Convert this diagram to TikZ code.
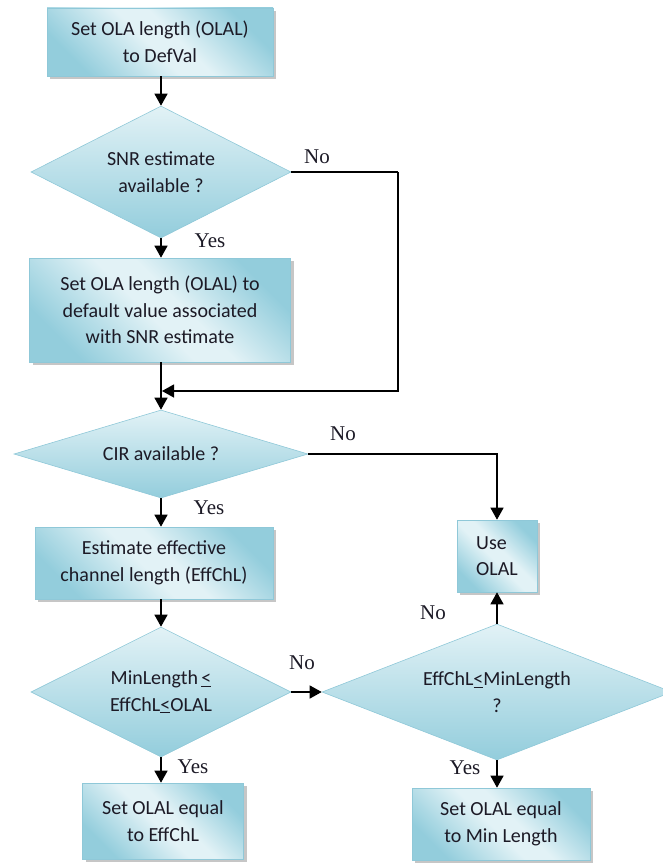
\documentclass[tikz,border=0pt]{standalone}
\usepackage{fontspec}
\setmainfont{Carlito}
\newfontfamily\labfont{Liberation Serif}
\usetikzlibrary{shapes.geometric,arrows.meta,shadows}
\definecolor{bxdark}{HTML}{93CDDC}
\definecolor{bxlight}{HTML}{E2F2F6}
\definecolor{bxedge}{HTML}{8FC8D8}
\definecolor{txt}{HTML}{1C1A26}
\pgfdeclarehorizontalshading{boxshade}{100bp}{color(0bp)=(bxdark); color(25bp)=(bxdark); color(47bp)=(bxlight); color(55bp)=(bxlight); color(75bp)=(bxdark); color(100bp)=(bxdark)}
\tikzset{
  box/.style={draw=bxedge, line width=0.6pt, shading=boxshade, shading angle=45,
    drop shadow={shadow xshift=3pt, shadow yshift=-3pt, fill=black!50, opacity=0.45},
    align=center, inner sep=0pt, text=txt, font=\fontsize{20}{26.5}\selectfont},
  dia/.style={diamond, draw=bxedge, line width=0.6pt, top color=bxlight, bottom color=bxdark,
    inner sep=0pt, align=center, text=txt, font=\fontsize{20}{26.5}\selectfont},
  arr/.style={draw=black, line width=1.3pt, -{Triangle[length=12pt,width=13pt]}},
  conn/.style={draw=black, line width=1.3pt},
  lab/.style={inner sep=0pt, text=txt, font=\labfont\fontsize{21}{24}\selectfont}
}
\begin{document}
\begin{tikzpicture}[x=1pt,y=-1pt]
\useasboundingbox (0,0) rectangle (662,864);
% boxes
\node[box, minimum width=226pt, minimum height=68pt] (b1) at (160,42) {Set OLA length (OLAL)\\to DefVal};
\node[box, minimum width=261pt, minimum height=104pt] (b2) at (160,310) {Set OLA length (OLAL) to\\default value associated\\with SNR estimate};
\node[box, minimum width=238pt, minimum height=72pt] (b3) at (154,563) {Estimate effective\\channel length (EffChL)};
\node[box, minimum width=80pt, minimum height=72pt, align=left] (b4) at (497,556) {Use\\OLAL};
\node[box, minimum width=161pt, minimum height=76pt] (b5) at (163,821) {Set OLAL equal\\to EffChL};
\node[box, minimum width=178pt, minimum height=72pt] (b6) at (501,824) {Set OLAL equal\\to Min Length};
% diamonds
\node[dia, shape aspect=2, minimum width=260pt, minimum height=132pt] (d1) at (161,172) {SNR estimate\\available ?};
\node[dia, shape aspect=3.3, minimum width=294pt, minimum height=88pt] (d2) at (161,454) {CIR available ?};
\node[dia, shape aspect=2, minimum width=260pt, minimum height=130pt] (d3) at (161,692) {MinLength\,\underline{<}\\EffChL\underline{<}OLAL};
\node[dia, shape aspect=2.5, minimum width=350pt, minimum height=136pt] (d4) at (497,692) {EffChL\underline{<}MinLength\\?};
% helper coordinates
\coordinate (r1) at (398,172);
\coordinate (m1) at (162,391);
% connectors
\draw[arr] (b1.south -| d1.north) -- (d1.north);
\draw[arr] (d1.south) -- (d1.south |- b2.north);
\draw[conn] (d1.east) -- (r1);
\draw[arr] (r1) |- (m1);
\draw[arr] (b2.south -| d2.north) -- (d2.north);
\draw[arr] (d2.east) -| (b4.north);
\draw[arr] (d2.south) -- (d2.south |- b3.north);
\draw[arr] (b3.south -| d3.north) -- (d3.north);
\draw[arr] (d3.east) -- (d4.west);
\draw[arr] (d3.south) -- (d3.south |- b5.north);
\draw[arr] (d4.north) -- (b4.south);
\draw[arr] (d4.south) -- (d4.south |- b6.north);
% labels
\node[lab] (l1) at (317,157) {No};
\node[lab] (l2) at (210,241) {Yes};
\node[lab] (l3) at (343,434) {No};
\node[lab] (l4) at (209,508) {Yes};
\node[lab] (l5) at (302,663) {No};
\node[lab] (l6) at (193,767) {Yes};
\node[lab] (l7) at (433,613) {No};
\node[lab] (l8) at (465,768) {Yes};
\end{tikzpicture}
\end{document}
